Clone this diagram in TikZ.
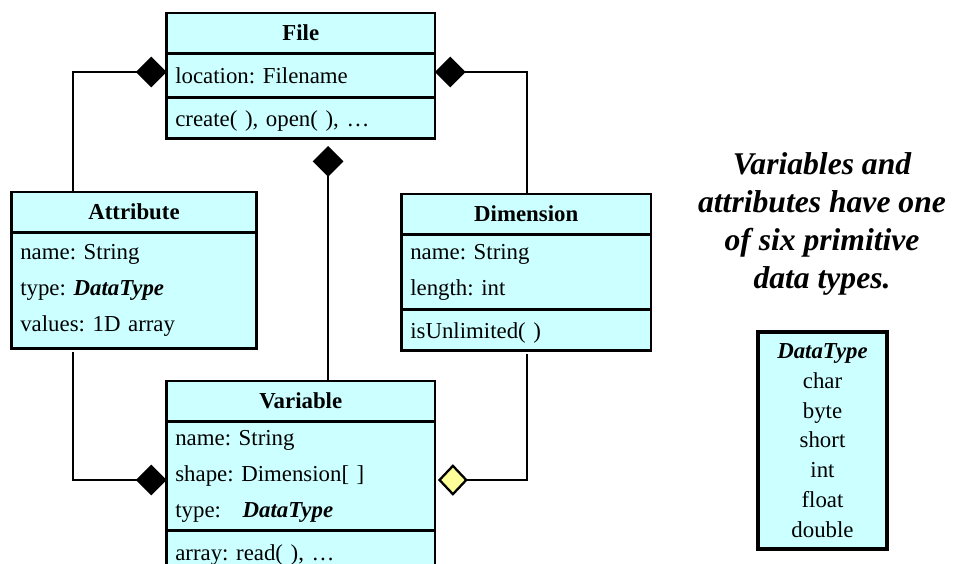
\documentclass[tikz,border=0pt]{standalone}
\usepackage{fontspec}
\setmainfont{Liberation Serif}
\frenchspacing
\usetikzlibrary{arrows.meta,positioning}
\definecolor{classcyan}{HTML}{CCFFFF}
\definecolor{diayellow}{HTML}{FFFF99}
\tikzset{classbox/.style={draw, line width=1.6pt, fill=classcyan,
         outer sep=0pt, minimum width=#1, inner xsep=5pt, inner ysep=0pt},
         classhead/.style={classbox=#1, font=\fontsize{13}{15}\selectfont\bfseries,
         text height=0.8em, text depth=0pt, minimum height=0.81cm},
         classattr/.style={classbox=#1, text width=#1-10pt, align=left},
         classops/.style={classbox=#1, text width=#1-10pt, align=left,
         text height=1em, text depth=0pt, minimum height=0.82cm},
         compo/.style={line width=1.3pt, -{Diamond[length=17.5pt, width=17.5pt]}},
         aggr/.style={line width=1.3pt, -{Diamond[length=17pt, width=18pt, fill=diayellow]}}}
\begin{document}
\begin{tikzpicture}[x=0.02cm, y=-0.02cm, font=\fontsize{13}{20.5}\selectfont]
    \path[use as bounding box] (0,0) rectangle (953,564);
    \clip (0,0) rectangle (953,564);

    % File
    \node[classhead=5.37cm, anchor=north] (file) at (300.75,13) {File};
    \node[classattr=5.37cm, minimum height=0.88cm, below=0pt of file] (file-a) {location: Filename};
    \node[classops=5.37cm, below=0pt of file-a] (file-o) {create( ), open( ), …};

    % Attribute
    \node[classhead=4.9cm, anchor=north] (attr) at (134,192) {Attribute};
    \node[classattr=4.9cm, minimum height=2.32cm, below=0pt of attr] (attr-a)
         {name: String\\type: \textbf{\textit{DataType}}\\values: 1D array};

    % Dimension
    \node[classhead=4.99cm, anchor=north] (dim) at (526.25,194) {Dimension};
    \node[classattr=4.99cm, minimum height=1.5cm, below=0pt of dim] (dim-a) {name: String\\length: int};
    \node[classops=4.99cm, below=0pt of dim-a] (dim-o) {isUnlimited( )};

    % Variable
    \node[classhead=5.37cm, anchor=north] (var) at (300.75,381) {Variable};
    \node[classattr=5.37cm, minimum height=2.18cm, below=0pt of var] (var-a)
         {name: String\\shape: Dimension[ ]\\type:\hspace{0.95em}\textbf{\textit{DataType}}};
    \node[classops=5.37cm, minimum height=0.86cm, below=0pt of var-a] (var-o) {array: read( ), …};

    % note and primitive types
    \node[align=center, font=\fontsize{18}{21.5}\selectfont\bfseries\itshape] (note) at (822,224)
         {Variables and\\attributes have one\\of six primitive\\data types.};
    \node[draw, line width=1.8pt, fill=classcyan, minimum width=2.58cm, minimum height=4.34cm,
          align=center, font=\fontsize{13}{17}\selectfont] (dtype) at (822.5,440.5)
         {\textbf{\textit{DataType}}\\char\\byte\\short\\int\\float\\double};

    % connectors
    \coordinate (attrBend) at (73,72);
    \draw[compo] (attr.north -| attrBend) -- (attrBend) -- (file-a.west |- attrBend);
    \coordinate (dimBend) at (527,72);
    \draw[compo] (dim.north -| dimBend) -- (dimBend) -- (file-a.east |- dimBend);
    \coordinate (fileGap) at (328,146);
    \draw[compo] (var.north -| fileGap) -- (fileGap);
    \coordinate (attrVarBend) at (73,480);
    \draw[compo, shorten <=2pt] (attr-a.south -| attrVarBend) -- (attrVarBend) -- (var-a.west |- attrVarBend);
    \coordinate (dimVarBend) at (527,480);
    \draw[aggr, shorten <=2pt, shorten >=1.7pt] (dim-o.south -| dimVarBend) -- (dimVarBend) -- (var-a.east |- dimVarBend);
\end{tikzpicture}
\end{document}
